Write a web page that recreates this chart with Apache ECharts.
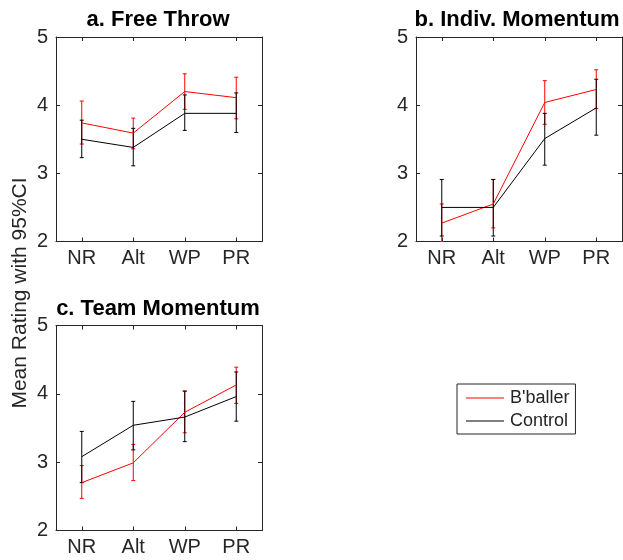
<!DOCTYPE html>
<html>
<head>
<meta charset="utf-8">
<title>Mean Rating with 95%CI</title>
<script src="https://cdn.jsdelivr.net/npm/echarts@6/dist/echarts.min.js"></script>
<style>
    html, body { margin: 0; padding: 0; background: #fff; }
    #chart { width: 623px; height: 560px; }
</style>
</head>
<body>
<div id="chart"></div>
<script>
    // categories
    const categories = ['NR', 'Alt', 'WP', 'PR'];
    const yTicks = [2, 3, 4, 5];

    // a. Free Throw
    const ballerMeanA = [3.74, 3.59, 4.20, 4.11];
    const ballerLowA = [3.43, 3.36, 3.94, 3.80];
    const ballerHighA = [4.06, 3.81, 4.46, 4.41];
    const controlMeanA = [3.50, 3.38, 3.88, 3.88];
    const controlLowA = [3.23, 3.11, 3.63, 3.60];
    const controlHighA = [3.78, 3.66, 4.15, 4.18];

    // b. Indiv. Momentum
    const ballerMeanB = [2.27, 2.55, 4.04, 4.23];
    const ballerLowB = [2.00, 2.20, 3.72, 3.95];
    const ballerHighB = [2.55, 2.91, 4.36, 4.52];
    const controlMeanB = [2.50, 2.50, 3.51, 3.96];
    const controlLowB = [2.08, 2.08, 3.12, 3.56];
    const controlHighB = [2.91, 2.91, 3.88, 4.38];

    // c. Team Momentum
    const ballerMeanC = [2.70, 2.99, 3.73, 4.13];
    const ballerLowC = [2.47, 2.73, 3.43, 3.86];
    const ballerHighC = [2.95, 3.26, 4.04, 4.39];
    const controlMeanC = [3.08, 3.54, 3.66, 3.96];
    const controlLowC = [2.70, 3.18, 3.30, 3.60];
    const controlHighC = [3.45, 3.89, 4.04, 4.32];

    const FONT = '"Liberation Sans", Arial, Helvetica, sans-serif';
    const AXIS_COLOR = '#262626';
    const RED = '#ff0000';
    const BLACK = '#000000';

    let chart = echarts.init(document.getElementById('chart'));

    let grids = [
        {left: 56, top: 37, width: 206, height: 204.5},
        {left: 416, top: 37, width: 206, height: 204.5},
        {left: 56, top: 325.5, width: 206, height: 205}
    ];

    let xAxes = [];
    let yAxes = [];
    grids.forEach((g, i) => {
        ['bottom', 'top'].forEach(pos => {
            xAxes.push({
                type: 'category',
                gridIndex: i,
                position: pos,
                data: categories,
                boundaryGap: true,
                axisLine: {lineStyle: {color: AXIS_COLOR, width: 1}},
                axisTick: {show: true, alignWithLabel: true, inside: true, length: 4, lineStyle: {color: AXIS_COLOR}},
                axisLabel: {show: pos === 'bottom', color: AXIS_COLOR, fontFamily: FONT, fontSize: 20, margin: 7},
                splitLine: {show: false}
            });
        });
        ['left', 'right'].forEach(pos => {
            yAxes.push({
                type: 'value',
                gridIndex: i,
                position: pos,
                min: yTicks[0],
                max: yTicks[yTicks.length - 1],
                interval: 1,
                axisLine: {show: true, lineStyle: {color: AXIS_COLOR, width: 1}},
                axisTick: {show: true, inside: true, length: 4, lineStyle: {color: AXIS_COLOR}},
                axisLabel: {show: pos === 'left', color: AXIS_COLOR, fontFamily: FONT, fontSize: 20, margin: 8},
                splitLine: {show: false}
            });
        });
    });

    // error bar with small caps
    function renderErrorBar(params, api) {
        let x = api.value(0);
        let lo = api.coord([x, api.value(1)]);
        let hi = api.coord([x, api.value(2)]);
        let half = 2;
        let style = {stroke: api.visual('color'), lineWidth: 1};
        return {
            type: 'group',
            children: [
                {type: 'line', shape: {x1: lo[0], y1: lo[1], x2: hi[0], y2: hi[1]}, style: style},
                {type: 'line', shape: {x1: hi[0] - half, y1: hi[1], x2: hi[0] + half, y2: hi[1]}, style: style},
                {type: 'line', shape: {x1: lo[0] - half, y1: lo[1], x2: lo[0] + half, y2: lo[1]}, style: style}
            ]
        };
    }

    function panelSeries(i, name, color, mean, low, high) {
        return [
            {
                name: name,
                type: 'line',
                xAxisIndex: i * 2,
                yAxisIndex: i * 2,
                data: mean,
                symbol: 'none',
                color: color,
                lineStyle: {color: color, width: 1},
                animation: false
            },
            {
                name: name + ' CI',
                type: 'custom',
                xAxisIndex: i * 2,
                yAxisIndex: i * 2,
                renderItem: renderErrorBar,
                itemStyle: {color: color},
                data: mean.map((m, k) => [k, low[k], high[k]]),
                animation: false
            }
        ];
    }

    let series = [].concat(
        panelSeries(0, "B'baller", RED, ballerMeanA, ballerLowA, ballerHighA),
        panelSeries(0, 'Control', BLACK, controlMeanA, controlLowA, controlHighA),
        panelSeries(1, "B'baller", RED, ballerMeanB, ballerLowB, ballerHighB),
        panelSeries(1, 'Control', BLACK, controlMeanB, controlLowB, controlHighB),
        panelSeries(2, "B'baller", RED, ballerMeanC, ballerLowC, ballerHighC),
        panelSeries(2, 'Control', BLACK, controlMeanC, controlLowC, controlHighC)
    );

    chart.setOption({
        animation: false,
        grid: grids,
        xAxis: xAxes,
        yAxis: yAxes,
        legend: {
            data: ["B'baller", 'Control'],
            orient: 'vertical',
            left: 457,
            top: 384,
            icon: 'rect',
            itemWidth: 38,
            itemHeight: 1,
            itemGap: 3,
            padding: [4, 6, 3, 9],
            borderColor: AXIS_COLOR,
            borderWidth: 1,
            borderRadius: 0,
            selectedMode: false,
            textStyle: {color: AXIS_COLOR, fontFamily: FONT, fontSize: 18, lineHeight: 20, padding: [0, 0, 0, 1]}
        },
        graphic: [
            {type: 'text', x: 158, y: 20, style: {text: 'a. Free Throw', font: 'bold 22px ' + FONT, fill: '#000', textAlign: 'center', textVerticalAlign: 'middle'}},
            {type: 'text', x: 517, y: 20, style: {text: 'b. Indiv. Momentum', font: 'bold 22px ' + FONT, fill: '#000', textAlign: 'center', textVerticalAlign: 'middle'}},
            {type: 'text', x: 158, y: 309, style: {text: 'c. Team Momentum', font: 'bold 22px ' + FONT, fill: '#000', textAlign: 'center', textVerticalAlign: 'middle'}},
            {type: 'text', x: 20, y: 293, rotation: Math.PI / 2, style: {text: 'Mean Rating with 95%CI', font: '21px ' + FONT, fill: AXIS_COLOR, textAlign: 'center', textVerticalAlign: 'middle'}}
        ],
        series: series
    });
</script>
</body>
</html>
